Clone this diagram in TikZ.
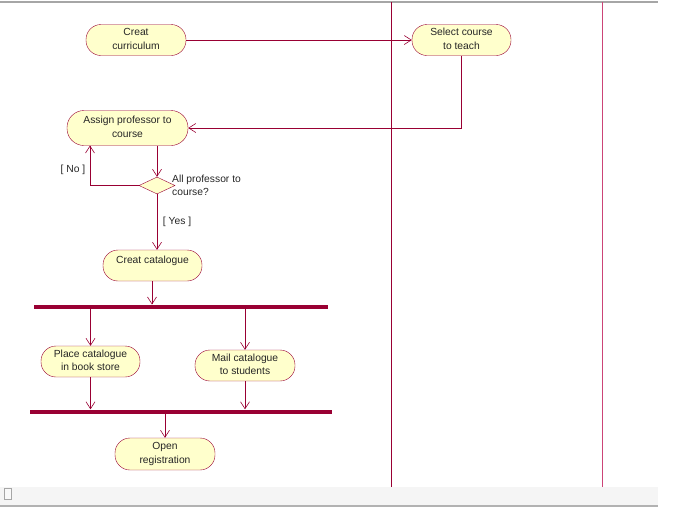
\documentclass[tikz,border=0pt]{standalone}
\usepackage{fontspec}
\setmainfont{Liberation Sans}
\usetikzlibrary{arrows.meta,shapes.geometric}
\definecolor{rose}{HTML}{990033}
\definecolor{lane}{HTML}{CC4477}
\definecolor{actfill}{HTML}{FFFFCC}
\newcommand\twol[2][2pt]{\raisebox{#1}{\begin{tabular}{@{}c@{}}#2\end{tabular}}}
\tikzset{
  act/.style={draw=rose, fill=actfill, rounded corners=15pt, minimum width=100pt, minimum height=31pt,
    align=center, inner sep=1pt, font=\fontsize{10.3}{13.5}\selectfont, text=black!85},
  flow/.style={draw=rose, line width=0.6pt, -{Straight Barb[length=7pt,width=9pt]}},
  bar/.style={fill=rose, draw=none, minimum height=4pt, inner sep=0pt},
  guard/.style={font=\fontsize{10.3}{13}\selectfont, text=black!85, inner sep=0pt},
}
\begin{document}
\begin{tikzpicture}[x=1pt,y=-1pt]
\useasboundingbox (0,0) rectangle (675,512);
% frame
\draw[gray!70, line width=1.2pt] (0,2) -- (658,2);
\draw[rose, line width=1pt] (391,2) -- (391,487);
\draw[lane, line width=0.9pt] (602,2) -- (602,487);
\fill[gray!8] (0,487) rectangle (658,505);
\draw[gray!60, line width=1.2pt] (0,506) -- (658,506);
\draw[gray!70, fill=gray!5] (4,488) rectangle (11,499);
% activities
\node[act] (cur) at (136,40) {\twol{Creat\\curriculum}};
\node[act, minimum width=99pt] (sel) at (461.5,40) {\twol[2.5pt]{Select course\\to teach}};
\node[act, minimum width=121pt, minimum height=35pt, rounded corners=17pt] (ass) at (127.5,128) {\twol[4.5pt]{Assign professor to\\course}};
\node[diamond, draw=rose, fill=actfill, minimum width=36pt, minimum height=17pt, inner sep=0pt, aspect=2.1] (dec) at (157,185.5) {};
\node[guard, anchor=north west, align=left] (declab) at (172,174.5) {All professor to\\course?};
\node[guard] (no) at (73,169.5) {[ No ]};
\node[guard] (yes) at (177,222) {[ Yes ]};
\node[act, minimum width=99pt] (cat) at (152.5,265.5) {\raisebox{11pt}{Creat catalogue}};
\node[bar, minimum width=294pt] (bar1) at (181,306.5) {};
\node[act, minimum width=99pt] (place) at (90.5,361.5) {\twol[1pt]{Place catalogue\\in book store}};
\node[act, minimum width=100pt] (mail) at (245,365.5) {\twol[1pt]{Mail catalogue\\to students}};
\node[bar, minimum width=302pt] (bar2) at (181,411.5) {};
\node[act, minimum width=100pt, minimum height=32pt] (open) at (165,454) {\twol[1.5pt]{Open\\registration}};
% flows
\draw[flow] (cur.east) -- (sel.west);
\draw[flow] (sel.south) -- (sel.south |- ass.east) -- (ass.east);
\draw[flow] (dec.north |- ass.south) -- (dec.north);
\draw[flow] (dec.west) -- (90,185.5) -- (90,145.5);
\draw[flow] (dec.south) -- (dec.south |- cat.north);
\draw[flow] (cat.south -| 152,0) -- (152,304.5);
\draw[flow] (place.north |- bar1.south) -- (place.north);
\draw[flow] (mail.north |- bar1.south) -- (mail.north);
\draw[flow] (place.south) -- (place.south |- bar2.north);
\draw[flow] (mail.south) -- (mail.south |- bar2.north);
\draw[flow] (open.north |- bar2.south) -- (open.north);
\end{tikzpicture}
\end{document}
